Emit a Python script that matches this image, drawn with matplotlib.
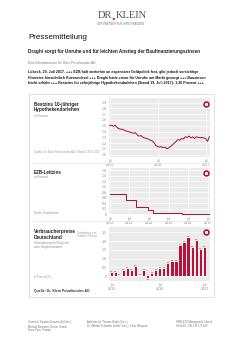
"""Dr. Klein press release page with three small charts (Bestzins, EZB-Leitzins, VPI)."""

import matplotlib
matplotlib.use("Agg")
import matplotlib.pyplot as plt
from matplotlib.patches import Rectangle
from matplotlib.lines import Line2D
import pandas as pd

W, H = 244, 345  # output size in px (dpi 100)

# ---- data ----
# Bestzins 10-jaehriger Hypothekendarlehen, biweekly from Jul 2015
bestzins = [1.50, 1.51, 1.49, 1.51, 1.47, 1.45, 1.44, 1.44, 1.42, 1.41,
            1.40, 1.39, 1.38, 1.37, 1.38, 1.34, 1.32, 1.33, 1.30, 1.29,
            1.28, 1.27, 1.25, 1.24, 1.21, 1.16, 1.14, 1.13, 1.14, 1.12,
            1.13, 1.10, 1.12, 1.14, 1.17, 1.20, 1.23, 1.26, 1.25, 1.28,
            1.27, 1.31, 1.30, 1.32, 1.29, 1.31, 1.28, 1.31, 1.30, 1.29,
            1.30, 1.29, 1.28, 1.23, 1.31]
bestzins_dates = pd.date_range("2015-07-01", periods=len(bestzins), freq="14D")
bestzins_yticks = [1.0, 1.1, 1.2, 1.3, 1.4, 1.5, 1.6, 1.7, 1.8, 1.9]
bestzins_xticks = ["2015-07-01", "2016-07-01", "2017-07-01"]
bestzins_xlabels = ["Jul\n2015", "Jul\n2016", "Jul\n2017"]

# EZB-Leitzins (Hauptrefinanzierungssatz)
ezb_dates = pd.to_datetime(["2012-07-11", "2013-05-08", "2013-11-13", "2014-06-11",
                            "2014-09-10", "2016-03-16", "2017-07-20"])
ezb_rate = [0.75, 0.50, 0.25, 0.15, 0.05, 0.00, 0.00]
ezb_yticks = [0, 0.2, 0.4, 0.6, 0.8, 1.0, 1.2, 1.4, 1.6]
ezb_xticks = ["2012-07-01", "2013-07-01", "2014-07-01", "2015-07-01", "2016-07-01", "2017-07-01"]
ezb_xlabels = ["Jul\n2012", "Jul\n2013", "Jul\n2014", "Jul\n2015", "Jul\n2016", "Jul\n2017"]

# Verbraucherpreise Deutschland, Veraenderung zum Vorjahresmonat, Jul 2015 - Jun 2017
vpi = [0.2, 0.2, 0.0, 0.3, 0.4, 0.3, 0.5, 0.0, 0.3, -0.1, 0.1, 0.3,
       0.4, 0.4, 0.7, 0.8, 0.8, 1.7, 1.9, 2.2, 1.6, 2.0, 1.5, 1.6]
vpi_yticks = [0, 0.5, 1.0, 1.5, 2.0, 2.5]
vpi_xticks = [0, 12, 23]
vpi_xlabels = ["Jul\n2015", "Jul\n2016", "Jun\n2017"]

RED = "#a8112f"
GREY_BG = "#ebebeb"
SANS = "Liberation Sans"


def fx(x):
    return x / W


def fy(y):
    return 1 - y / H


def txt(x, y, s, size, color="#222222", weight="normal", **kw):
    fig.text(fx(x), fy(y), s, fontsize=size, color=color, weight=weight,
             family=SANS, va="center", **kw)


def comma(v):
    return ("%.1f" % v).replace(".", ",") if v != 0 else "0"


def style(ax, yticks, left, top, w, h):
    ax.set_position([fx(left), fy(top + h), fx(w), h / H])
    ax.set_facecolor(GREY_BG)
    for s in ax.spines.values():
        s.set_visible(False)
    ax.set_yticks(yticks)
    ax.set_yticklabels([comma(v) for v in yticks])
    ax.tick_params(length=0, labelsize=2.3, labelcolor="#888888", pad=1.5)
    ax.grid(color="white", lw=0.5)
    ax.set_axisbelow(True)
    # little red badge top right
    ax.plot([0.963], [0.9], marker="o", ms=3.6, color=RED, mec=RED,
            transform=ax.transAxes, clip_on=False, zorder=5)
    ax.plot([0.963], [0.9], marker="o", ms=1.3, color="white", mec="white",
            transform=ax.transAxes, clip_on=False, zorder=6)


fig = plt.figure(figsize=(W / 100, H / 100), dpi=100)

# ---- header ----
fig.text(fx(112), fy(15), "DR", fontsize=7.6, family="Liberation Serif",
         color="#555555", ha="right", va="center")
fig.text(fx(113.6), fy(16.2), ".", fontsize=10, family="Liberation Serif",
         color="#c8102e", ha="center", va="center", weight="bold")
fig.text(fx(115.5), fy(15), "KLEIN", fontsize=7.6, family="Liberation Serif",
         color="#555555", ha="left", va="center")
fig.text(fx(120), fy(24), "DER PARTNER FÜR IHRE FINANZEN", fontsize=1.9,
         family=SANS, color="#777777", ha="center", va="center")

txt(28, 37.5, "Pressemitteilung", 5.8, color="#111111")
txt(28, 51, "Draghi sorgt für Unruhe und für leichten Anstieg der Baufinanzierungszinsen",
    3.35, weight="bold")
txt(28, 63.5, "Eine Information der Dr. Klein Privatkunden AG", 2.3, color="#777777")
para = ["Lübeck, 20. Juli 2017. +++ EZB hält weiterhin an expansiver Geldpolitik fest, gibt jedoch vorsichtige",
        "Hinweise hinsichtlich Kurswechsel +++ Draghi hatte zuvor für Unruhe am Markt gesorgt +++ Bauzinsen",
        "leicht erhöht +++ Bestzins für zehnjährige Hypothekendarlehen (Stand 19. Juli 2017): 1,30 Prozent +++"]
for i, line in enumerate(para):
    txt(28, 72 + 5.6 * i, line, 2.62, weight="bold", color="#111111")

# ---- frame around charts ----
fig.patches.append(Rectangle((fx(29), fy(297)), 185 / W, 203 / H, transform=fig.transFigure,
                             fill=False, ec="#dcdcdc", lw=0.6))
for yy in (163, 221):
    fig.add_artist(Line2D([fx(33), fx(210)], [fy(yy), fy(yy)], color="#e4e4e4", lw=0.4))

# ---- chart 1: Bestzins ----
ax1 = fig.add_axes([0, 0, 1, 1])
ax1.plot(bestzins_dates, bestzins, color=RED, lw=0.7)
ax1.set_ylim(0.96, 1.98)
ax1.set_xlim(pd.Timestamp("2015-06-26"), pd.Timestamp("2017-07-31"))
style(ax1, bestzins_yticks, 109, 98, 101, 59)
ax1.set_xticks(pd.to_datetime(bestzins_xticks))
ax1.set_xticklabels(bestzins_xlabels, linespacing=1.0)
txt(34, 104.5, "Bestzins 10-jähriger", 3.3, weight="bold")
txt(34, 110, "Hypothekendarlehen", 3.3, weight="bold")
txt(34, 115.5, "in Prozent", 2.2, color="#888888")
txt(34, 152.5, "Quelle: Dr. Klein Privatkunden AG / Stand: 19.07.2017", 2.0, color="#999999")

# ---- chart 2: EZB-Leitzins ----
ax2 = fig.add_axes([0, 0, 1, 1])
ax2.step(ezb_dates, ezb_rate, where="post", color=RED, lw=0.7)
ax2.set_ylim(-0.03, 1.68)
ax2.set_xlim(pd.Timestamp("2012-06-20"), pd.Timestamp("2017-08-10"))
style(ax2, ezb_yticks, 109, 168, 101, 47)
ax2.set_xticks(pd.to_datetime(ezb_xticks))
ax2.set_xticklabels(ezb_xlabels, linespacing=1.0)
txt(34, 172, "EZB-Leitzins", 3.3, weight="bold")
txt(34, 177.5, "in Prozent", 2.2, color="#888888")
txt(34, 213, "Quelle: Bundesbank", 2.0, color="#999999")

# ---- chart 3: Verbraucherpreise ----
ax3 = fig.add_axes([0, 0, 1, 1])
x3 = list(range(len(vpi)))
ax3.bar(x3, vpi, width=0.55, color="#b5133b")
for i, v in enumerate(vpi):
    ax3.text(i, v + (0.05 if v >= 0 else -0.05), comma(v) if v != 0 else "0,0",
             ha="center", va="bottom" if v >= 0 else "top", fontsize=1.7,
             color="#333333", family=SANS)
ax3.axhline(1.0, color="#cfcfcf", lw=0.4, zorder=0.5)
ax3.set_ylim(-0.28, 2.8)
ax3.set_xlim(-0.7, 24.3)
style(ax3, vpi_yticks, 109, 227, 101, 54)
ax3.set_xticks(vpi_xticks)
ax3.set_xticklabels(vpi_xlabels, linespacing=1.0)
ax3.grid(axis="x", visible=False)
txt(34, 232, "Verbraucherpreise", 3.4, weight="bold")
txt(34, 237.5, "Deutschland", 3.4, weight="bold")
txt(34, 243, "Veränderung im Vergleich", 2.2, color="#888888")
txt(34, 247, "zum Vorjahresmonat", 2.2, color="#888888")
txt(77, 233, "Veränderung zum", 1.8, color="#999999")
txt(77, 236.5, "Vorjahr in Prozent", 1.8, color="#999999")
txt(34, 277, "in Prozent (%)", 2.0, color="#999999")
txt(34, 291, "Quelle: Dr. Klein Privatkunden AG", 2.4, weight="bold", color="#333333")

# ---- footer ----
foot = [(28, ["Vorstand: Stephan Gawarecki (Vors.),", "Michael Neumann, Rainer Ulbrich,", "Hans-Peter Trampe"]),
        (87, ["Aufsichtsrat: Thomas Brück (Vors.)", "Dr. Wilhelm Schneider (stellv. Vors.), Peter Wiegand"]),
        (176, ["HRB 4703 Amtsgericht Lübeck", "USt-IdNr.: DE 135 172 839"])]
for x0, lines in foot:
    for i, line in enumerate(lines):
        txt(x0, 322 + 4.2 * i, line, 1.9, color="#777777")

fig.savefig("out.png", dpi=100)
